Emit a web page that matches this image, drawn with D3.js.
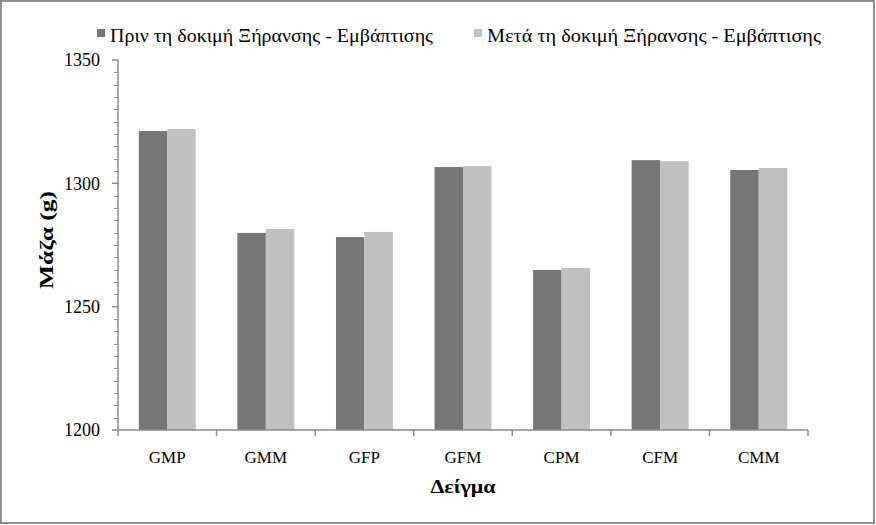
<!DOCTYPE html>
<html>
<head>
<meta charset="utf-8">
<script src="https://cdn.jsdelivr.net/npm/d3@7"></script>
<style>
  html, body { margin: 0; padding: 0; background: #fff; }
  svg { display: block; }
  .f { font-family: "Liberation Serif", "Tinos", "Times New Roman", Times, "DejaVu Serif", serif; }
</style>
</head>
<body>
<script>
const categories = ["GMP", "GMM", "GFP", "GFM", "CPM", "CFM", "CMM"];
const seriesNames = ["Πριν τη δοκιμή Ξήρανσης - Εμβάπτισης", "Μετά τη δοκιμή Ξήρανσης - Εμβάπτισης"];
const before = [1321.2, 1279.9, 1278.2, 1306.6, 1264.9, 1309.4, 1305.4];
const after  = [1322.0, 1281.5, 1280.3, 1307.0, 1265.7, 1309.0, 1306.2];
const yTicks = [1200, 1250, 1300, 1350];
const yTitle = "Μάζα (g)";
const xTitle = "Δείγμα";

const W = 876, H = 525;
const colors = ["#767676", "#c0c0c0"];
const axisColor = "#8a8a8a";

const svg = d3.select("body").append("svg").attr("width", W).attr("height", H);
svg.append("rect").attr("x", 0).attr("y", 0).attr("width", W).attr("height", H).attr("fill", "#fff");
svg.append("rect").attr("x", 1).attr("y", 1).attr("width", 873).attr("height", 522)
  .attr("fill", "none").attr("stroke", "#8e8e8e").attr("stroke-width", 2);

const plot = { left: 118, right: 808, top: 60, bottom: 430 };
const x = d3.scaleBand().domain(categories).range([plot.left, plot.right]).padding(0);
const y = d3.scaleLinear().domain([1200, 1350]).range([plot.bottom, plot.top]);

const barW = x.bandwidth() * 0.289;
const series = [before, after];

series.forEach((vals, si) => {
  svg.append("g").selectAll("rect").data(categories).join("rect")
    .attr("x", (d) => x(d) + x.bandwidth() / 2 - barW + si * barW)
    .attr("y", (d, i) => y(vals[i]))
    .attr("width", barW)
    .attr("height", (d, i) => y(1200) - y(vals[i]))
    .attr("fill", colors[si]);
});

const minor = d3.range(1200, 1351, 5);
const ya = svg.append("g");
ya.selectAll("line.minor").data(minor.filter(v => v % 50 !== 0)).join("line")
  .attr("x1", plot.left - 4).attr("x2", plot.left)
  .attr("y1", d => Math.round(y(d)) + 0.5).attr("y2", d => Math.round(y(d)) + 0.5)
  .attr("stroke", axisColor).attr("stroke-width", 1);
ya.selectAll("line.major").data(yTicks).join("line")
  .attr("x1", plot.left - 6).attr("x2", plot.left)
  .attr("y1", d => y(d)).attr("y2", d => y(d))
  .attr("stroke", axisColor).attr("stroke-width", 1.5);
ya.append("line").attr("x1", plot.left).attr("x2", plot.left)
  .attr("y1", plot.top).attr("y2", plot.bottom)
  .attr("stroke", axisColor).attr("stroke-width", 1.5);
ya.selectAll("text").data(yTicks).join("text").attr("class", "f")
  .attr("x", 100).attr("y", d => y(d)).attr("dy", "0.35em")
  .attr("text-anchor", "end")
  .attr("font-size", 18).attr("fill", "#000")
  .text(d => d);

const xa = svg.append("g");
xa.append("line").attr("x1", plot.left).attr("x2", plot.right)
  .attr("y1", plot.bottom).attr("y2", plot.bottom)
  .attr("stroke", axisColor).attr("stroke-width", 1.5);
const bounds = categories.map(c => x(c)).concat([plot.right]);
xa.selectAll("line.t").data(bounds).join("line")
  .attr("x1", d => d).attr("x2", d => d)
  .attr("y1", plot.bottom).attr("y2", plot.bottom + 6)
  .attr("stroke", axisColor).attr("stroke-width", 1.5);
xa.selectAll("text").data(categories).join("text").attr("class", "f")
  .attr("x", d => x(d) + x.bandwidth() / 2).attr("y", 463)
  .attr("text-anchor", "middle")
  .attr("font-size", 17).attr("fill", "#000")
  .text(d => d);

svg.append("text").attr("class", "f").attr("x", 463).attr("y", 493).attr("text-anchor", "middle")
  .attr("font-weight", "bold").attr("font-size", 19)
  .attr("textLength", 65).attr("lengthAdjust", "spacingAndGlyphs")
  .text(xTitle);
svg.append("text").attr("class", "f").attr("transform", "translate(53,240) rotate(-90)")
  .attr("text-anchor", "middle")
  .attr("font-weight", "bold").attr("font-size", 19)
  .attr("textLength", 98).attr("lengthAdjust", "spacingAndGlyphs")
  .text(yTitle);

const legendX = [97, 474];
const lg = svg.append("g");
seriesNames.forEach((name, i) => {
  lg.append("rect").attr("x", legendX[i]).attr("y", 29).attr("width", 8).attr("height", 8)
    .attr("fill", colors[i]);
  lg.append("text").attr("class", "f").attr("x", legendX[i] + 13).attr("y", 42)
    .attr("font-size", 18.5).attr("fill", "#000")
    .attr("textLength", i === 0 ? 323 : 334).attr("lengthAdjust", "spacingAndGlyphs")
    .text(name);
});
</script>
</body>
</html>
